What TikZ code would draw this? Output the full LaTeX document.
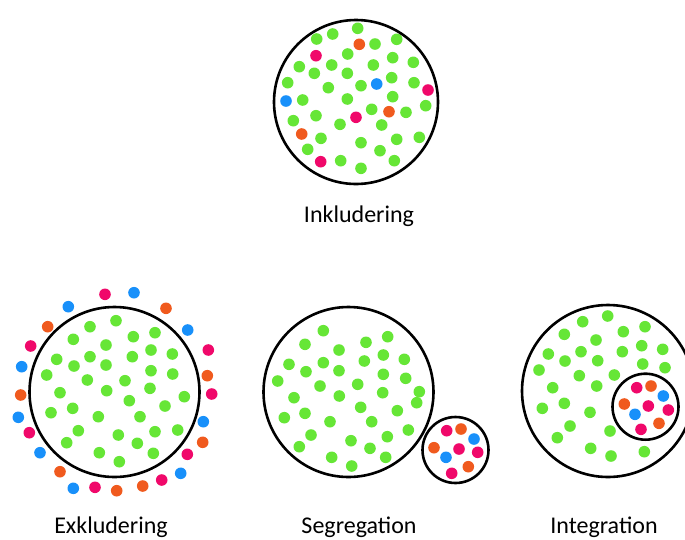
\documentclass[tikz,border=0pt]{standalone}
\usepackage{fontspec}
\setmainfont{Carlito}
\definecolor{gruen}{RGB}{102,230,54}
\definecolor{rosa}{RGB}{240,8,106}
\definecolor{orang}{RGB}{240,90,30}
\definecolor{blau}{RGB}{24,144,250}

\begin{document}
\begin{tikzpicture}[x=1pt,y=-1pt,
    ring/.style={draw=black,line width=2.6pt},
    dot/.style={fill=#1},
    lbl/.style={font=\fontsize{24}{28}\selectfont,anchor=base}]
    \clip (0,0) rectangle (685,539);
    \fill[white] (0,0) rectangle (685,539);

    % 上方：Inkludering
    \foreach \x/\y in {357.7/28.3,316.7/39,332.7/34,375/44,396.7/39.3,347.7/54,299.3/66.7,331.7/65,
        373.3/65,392.7/57.7,413.3/62.3,314.3/73.3,347.3/73.3,391.7/77.7,287.7/82.7,328.3/87.7,
        361/85.7,414/82.7,302.7/100,347.3/99,392.7/96.7,425.7/105.7,371.7/109.3,406/112.3,
        293.3/120.7,316/115.7,340/124.3,381.7/125,321/138.3,361/142.7,396.7/139.3,419.3/137.3,
        307.7/149.3,380/150.7,340.7/160.7,394.3/160.7,361/168.3}
        \fill[dot=gruen] (\x,\y) circle (5.8pt);
    \foreach \x/\y in {316/55.7,428/90,356/117.3,320.7/161.7}
        \fill[dot=rosa] (\x,\y) circle (5.8pt);
    \foreach \x/\y in {359.3/44.3,389/111.7,301.7/134}
        \fill[dot=orang] (\x,\y) circle (5.8pt);
    \foreach \x/\y in {376.7/84,286/101}
        \fill[dot=blau] (\x,\y) circle (5.8pt);
    \draw[ring] (356,102) circle (82pt);
    \node[lbl] (inkl) at (359,222) {Inkludering};

    % 左下：Exkludering
    \draw[ring] (114.5,392) circle (85pt);
    \foreach \x/\y in {116/320.7,90/326.7,73.3/339.3,133.3/336.7,155/332.7,106/345,151/350,
        172.3/354,56.7/359.3,90/356.7,132.3/356.7,74/366,106/365,151/370.7,172.7/374,46.7/375,
        87.3/380,125/380.7,150/388.3,60/392.7,106.7/390.7,184.3/396.7,129.3/400.7,165/406,
        72.7/408.3,51/412.7,98.3/416.7,140/416.7,78.3/430.7,155/431.7,177.7/430,118.3/435,
        66.7/442.7,137.3/443.3,99.3/452.7,153.3/453.3,119.3/461.7}
        \fill[dot=gruen] (\x,\y) circle (5.8pt);
    \foreach \x/\y in {105/294.3,30.7/346,208.3/350,211.7/394,29.3/432.7,187.3/454.3,161.7/480,95/487.3}
        \fill[dot=rosa] (\x,\y) circle (5.8pt);
    \foreach \x/\y in {166/308.3,47.7/326.7,207.3/375.7,20.7/395,202.7/442.3,60/471.7,142.7/486,116.7/490.7}
        \fill[dot=orang] (\x,\y) circle (5.8pt);
    \foreach \x/\y in {134/292.7,68.3/306.7,187.7/330,21.7/366.7,18.3/417.3,203.3/421.7,40/452.7,180.7/473.3,73.3/488.3}
        \fill[dot=blau] (\x,\y) circle (5.8pt);
    \node[lbl] (exkl) at (111,533) {Exkludering};

    % 中下：Segregation
    \draw[ring] (348.5,392) circle (85pt);
    \foreach \x/\y in {323.3/330.7,305/344.3,366/342.3,387.7/336.7,339/350,289/364.3,323.3/362.7,
        364.3/361,383.3/355,404.3/359.3,306/371.7,339/370.7,383.3/374.3,405.7/378.3,277.7/381,
        320/386,357.7/384.3,382.7/392.7,419.3/391.7,294/397.7,339.3/396,416.7/402.7,360.7/407.3,
        397.3/410.7,284.3/417.7,305/413.3,330/421.7,371.7/421.7,408.3/430,311/435,351/440.7,
        387.3/436.7,299.3/446.7,370/448.3,331.7/457.3,385.7/457.3,351.7/466}
        \fill[dot=gruen] (\x,\y) circle (5.8pt);
    \fill[white] (455.5,450) circle (33pt);
    \draw[ring] (455.5,450) circle (33pt);
    \foreach \x/\y in {446.7/430.7,459/449,477.7/452.3,451.7/473.3}
        \fill[dot=rosa] (\x,\y) circle (5.8pt);
    \foreach \x/\y in {461/429,434/447.7,468.3/466.7}
        \fill[dot=orang] (\x,\y) circle (5.8pt);
    \foreach \x/\y in {474/439,446/457.3}
        \fill[dot=blau] (\x,\y) circle (5.8pt);
    \node[lbl] (segr) at (359,533) {Segregation};

    % 右下：Integration
    \draw[ring] (608,391) circle (86pt);
    \draw[ring] (645.5,406.7) circle (33pt);
    \foreach \x/\y in {607.7/316,582.7/321.7,645/326.7,564.3/334.3,623.3/331.7,596/340,641.7/345.7,
        662.7/349.3,548.3/354,581/351.7,622.3/351.7,565/361,597.7/360.7,642.7/364,665/367.7,
        539/370,579.3/375.7,614.3/375,552.7/387.7,596.7/386,542.3/408.3,564.3/403.3,590/412.3,
        570/426,610/431,557.3/437.7,590.7/448.3,611/456,644.3/451.7}
        \fill[dot=gruen] (\x,\y) circle (5.8pt);
    \foreach \x/\y in {636.7/387.7,648.3/406,668.3/410,641/429.3}
        \fill[dot=rosa] (\x,\y) circle (5.8pt);
    \foreach \x/\y in {651/386,624.3/404,659/423.3}
        \fill[dot=orang] (\x,\y) circle (5.8pt);
    \foreach \x/\y in {663.3/396,635/414.3}
        \fill[dot=blau] (\x,\y) circle (5.8pt);
    \node[lbl] (integ) at (604,533) {Integration};
\end{tikzpicture}
\end{document}
